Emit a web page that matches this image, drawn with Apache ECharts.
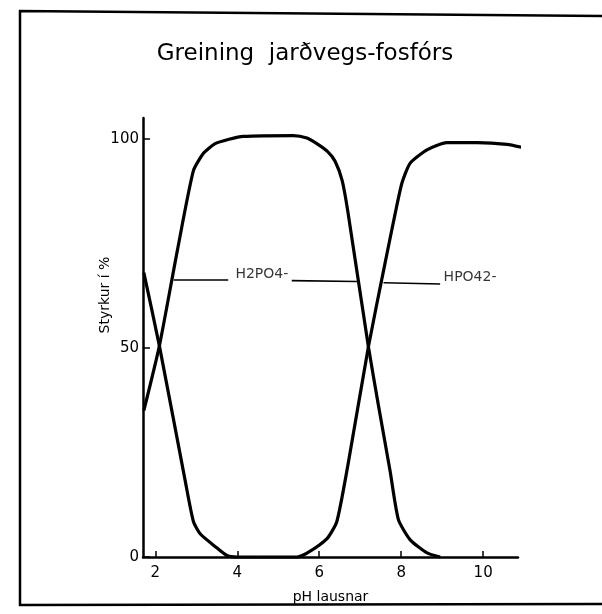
<!DOCTYPE html>
<html>
<head>
<meta charset="utf-8">
<script src="https://cdn.jsdelivr.net/npm/echarts@6/dist/echarts.min.js"></script>
<style>
  html, body { margin: 0; padding: 0; background: #fff; }
  #main { width: 602px; height: 614px; }
</style>
</head>
<body>
<div id="main"></div>
<script>
// fractions (%) vs pH
var h3po4 = [[1.72, 68], [2.1, 50.5], [2.73, 18.2], [2.93, 8.5], [3.1, 5.5], [3.5, 2.2], [3.76, 0.3], [4.0, 0], [4.5, 0]];
var h2po4 = [[1.72, 35], [2.1, 50.5], [2.54, 73.4], [2.93, 92.4], [3.18, 96.6], [3.45, 98.8], [3.8, 99.9],
  [4.15, 100.6], [5.37, 100.8], [5.7, 100.2], [5.95, 98.8], [6.2, 97], [6.39, 94.6], [6.56, 90],
  [6.7, 82.5], [7.2, 50.3], [7.44, 36.5], [7.73, 20.5], [7.93, 9], [8.22, 4.1], [8.63, 1], [8.95, 0]];
var hpo4 = [[4.5, 0], [5.46, 0], [5.7, 0.9], [6.19, 4.4], [6.43, 8.5], [6.7, 22], [7.2, 50.3],
  [7.6, 70], [7.85, 82], [8.02, 89.5], [8.22, 94.2], [8.63, 97.4], [9.11, 99.1],
  [9.85, 99.1], [10.58, 98.7], [10.94, 98]];

var xTicks = [2, 4, 6, 8, 10];
var yTicks = [0, 50, 100];

// labels on the curves and their leader lines
var curveLabels = [[4.6, 67.5, 'H2PO4-'], [9.68, 67, 'HPO42-']];
var leaders = [
  [[2.45, 66.3], [3.78, 66.3]],
  [[5.33, 66.1], [6.92, 65.9]],
  [[7.57, 65.6], [8.95, 65.3]]
];

var chart = echarts.init(document.getElementById('main'));
var font = 'DejaVu Sans';

function curve(name, data) {
  return {
    name: name,
    type: 'line',
    data: data,
    smooth: 0.2,
    clip: false,
    showSymbol: false,
    lineStyle: { color: '#000', width: 3.2 },
    silent: true
  };
}

var option = {
  backgroundColor: '#fff',
  animation: false,
  title: {
    text: 'Greining  jarðvegs-fosfórs',
    left: 300,
    textAlign: 'center',
    top: 38,
    textStyle: { fontFamily: font, fontSize: 23, fontWeight: 'normal', color: '#000' }
  },
  grid: { left: 143, right: 84, top: 118, bottom: 57 },
  xAxis: {
    type: 'value',
    min: 1.7,
    max: 10.85,
    name: 'pH lausnar',
    nameLocation: 'middle',
    nameGap: 33,
    nameTextStyle: { fontFamily: font, fontSize: 14, color: '#000' },
    axisLine: { lineStyle: { color: '#000', width: 2.5 } },
    axisTick: { inside: true, length: 6, customValues: xTicks, lineStyle: { color: '#000', width: 1.5 } },
    axisLabel: { customValues: xTicks, fontFamily: font, fontSize: 15, color: '#000', margin: 9 },
    splitLine: { show: false }
  },
  yAxis: {
    type: 'value',
    min: 0,
    max: 105,
    axisLine: { show: true, lineStyle: { color: '#000', width: 2.5 } },
    axisTick: { show: true, inside: true, length: 7, customValues: yTicks, lineStyle: { color: '#000', width: 1.5 } },
    axisLabel: { customValues: yTicks, fontFamily: font, fontSize: 15, color: '#000', margin: 4 },
    splitLine: { show: false }
  },
  graphic: [
    { type: 'polyline', shape: { points: [[602, 16], [20, 11], [20, 605], [602, 604]] },
      style: { stroke: '#000', lineWidth: 2.5, fill: null } },
    { type: 'text', x: 105, y: 295, rotation: Math.PI / 2,
      style: { text: 'Styrkur í %', font: '14px "DejaVu Sans"', fill: '#000', align: 'center', verticalAlign: 'middle' } }
  ],
  series: [
    curve('H3PO4', h3po4),
    curve('H2PO4-', h2po4),
    curve('HPO42-', hpo4),
    {
      name: 'labels',
      type: 'scatter',
      data: curveLabels,
      symbolSize: 0,
      silent: true,
      label: {
        show: true,
        position: 'inside',
        formatter: function (p) { return p.data[2]; },
        fontFamily: font,
        fontSize: 14,
        color: '#000'
      },
      markLine: {
        silent: true,
        symbol: 'none',
        label: { show: false },
        lineStyle: { color: '#000', width: 1.6, type: 'solid' },
        data: leaders.map(function (l) { return [{ coord: l[0] }, { coord: l[1] }]; })
      }
    }
  ]
};

chart.setOption(option);
</script>
</body>
</html>
